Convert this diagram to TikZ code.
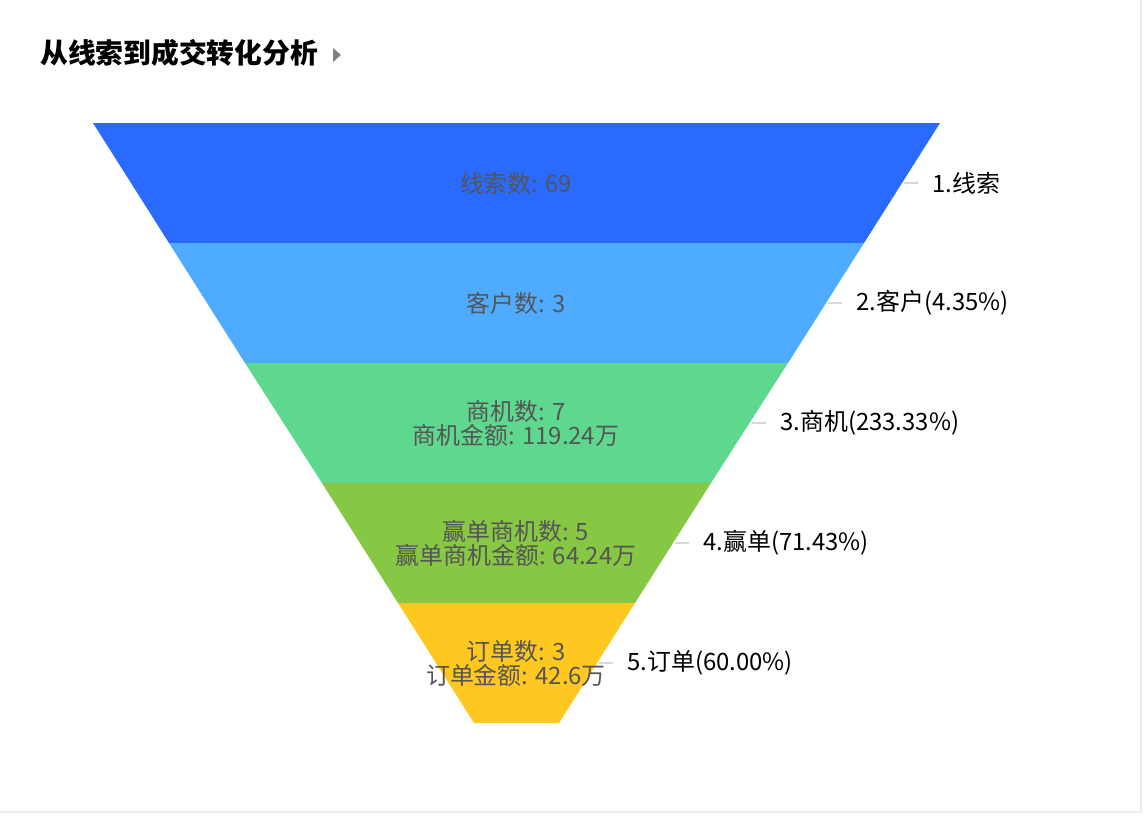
\documentclass[tikz,border=0pt]{standalone}
\usepackage{fontspec}
\setmainfont{Noto Sans CJK SC}
\usetikzlibrary{positioning}
\definecolor{layerA}{HTML}{2A6AFF}
\definecolor{layerB}{HTML}{4FABFF}
\definecolor{layerC}{HTML}{5ED88F}
\definecolor{layerD}{HTML}{86C744}
\definecolor{layerE}{HTML}{FFC820}
\definecolor{textgray}{HTML}{555555}
\tikzstyle{inlabel}=[text=textgray,font=\fontsize{13.6}{12.5}\selectfont,align=center,inner sep=0pt]
\tikzstyle{outlabel}=[text=black,font=\fontsize{13.6}{13}\selectfont,anchor=west,inner sep=0pt]
\tikzstyle{leader}=[draw=black!15,line width=0.6pt]

\begin{document}
\begin{tikzpicture}[x=0.02cm,y=-0.02cm]
        \useasboundingbox (0,0) rectangle (1148,816);
        \fill[white] (0,0) rectangle (1148,816);
        \draw[black!8,line width=1pt] (1141,0) -- (1141,812) -- (0,812);

        \node[anchor=west,inner sep=0pt,font=\fontsize{15.8}{16}\selectfont\bfseries] (title) at (40,53) {从线索到成交转化分析};
        \fill[gray] (333,48) -- (341,55) -- (333,62) -- cycle;

        % funnel layers
        \fill[layerA] (93,123) -- (940,123) -- (864,243) -- (169,243) -- cycle;
        \fill[layerB] (169,243) -- (864,243) -- (788,363) -- (245,363) -- cycle;
        \fill[layerC] (245,363) -- (788,363) -- (711,483) -- (322,483) -- cycle;
        \fill[layerD] (322,483) -- (711,483) -- (635,603) -- (398,603) -- cycle;
        \fill[layerE] (398,603) -- (635,603) -- (559,723) -- (474,723) -- cycle;

        \node[inlabel] (in1) at (516,183) {线索数: 69};
        \node[inlabel] (in2) at (516,303) {客户数: 3};
        \node[inlabel] (in3) at (516,423) {商机数: 7\\商机金额: 119.24万};
        \node[inlabel] (in4) at (516,543) {赢单商机数: 5\\赢单商机金额: 64.24万};
        \node[inlabel] (in5) at (516,663) {订单数: 3\\订单金额: 42.6万};

        \coordinate (e1) at (904,183);
        \coordinate (e2) at (828,303);
        \coordinate (e3) at (752,423);
        \coordinate (e4) at (675,543);
        \coordinate (e5) at (599,663);

        \node[outlabel] (out1) at (932,183) {1.线索};
        \node[outlabel] (out2) at (856,303) {2.客户(4.35\%)};
        \node[outlabel] (out3) at (780,423) {3.商机(233.33\%)};
        \node[outlabel] (out4) at (703,543) {4.赢单(71.43\%)};
        \node[outlabel] (out5) at (627,663) {5.订单(60.00\%)};

        \foreach \i in {1,...,5}
          \draw[leader] (e\i) -- ([xshift=-8]out\i.west);
      \end{tikzpicture}
\end{document}
